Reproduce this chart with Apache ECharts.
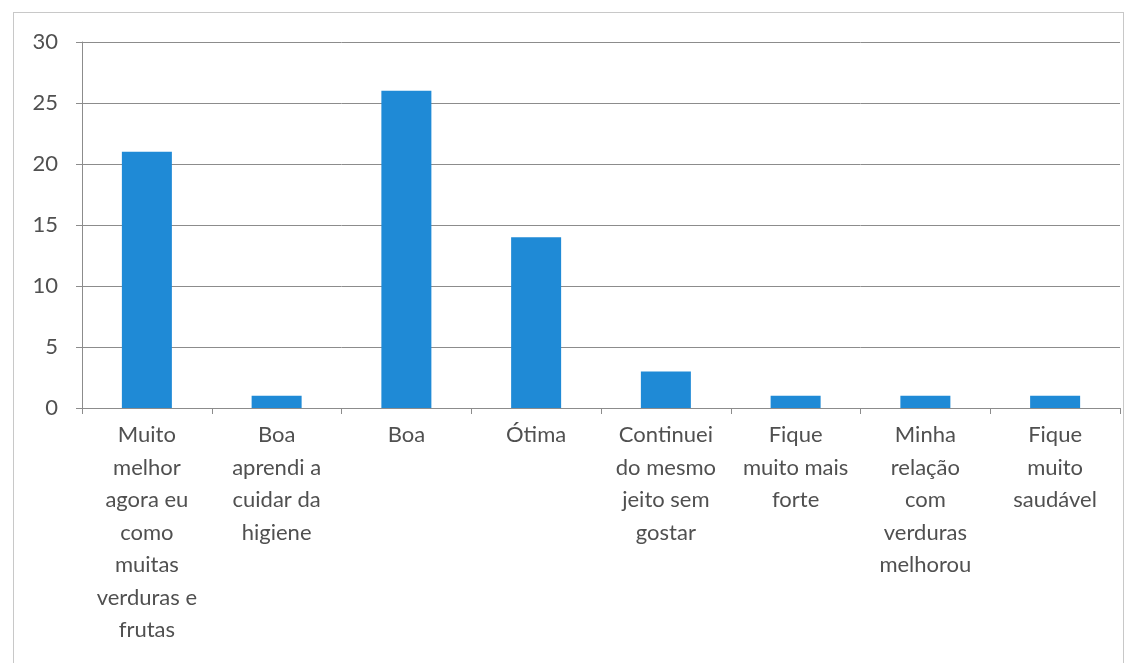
<!DOCTYPE html>
<html>
<head>
<meta charset="utf-8">
<script src="https://cdn.jsdelivr.net/npm/echarts@6/dist/echarts.min.js"></script>
<style>
  html, body { margin: 0; padding: 0; background: #fff; }
  #frame { position: absolute; left: 13px; top: 12px; width: 1111px; height: 660px; border: 1px solid #c8c8c8; box-sizing: border-box; }
  #chart { position: absolute; left: 0; top: 0; width: 1137px; height: 663px; }
</style>
</head>
<body>
<div id="frame"></div>
<div id="chart"></div>
<script>
// Answer categories (line breaks as printed under the axis)
const categories = [
  'Muito\nmelhor\nagora eu\ncomo\nmuitas\nverduras e\nfrutas',
  'Boa\naprendi a\ncuidar da\nhigiene',
  'Boa',
  'Ótima',
  'Continuei\ndo mesmo\njeito sem\ngostar',
  'Fique\nmuito mais\nforte',
  'Minha\nrelação\ncom\nverduras\nmelhorou',
  'Fique\nmuito\nsaudável'
];
// Number of answers per category
const counts = [21, 1, 26, 14, 3, 1, 1, 1];
// Value axis ticks
const yTicks = [0, 5, 10, 15, 20, 25, 30];

const textColor = '#505050';
const fontFamily = 'Lato, "Open Sans", sans-serif';

const chart = echarts.init(document.getElementById('chart'));
chart.setOption({
  animation: false,
  grid: { left: 82, right: 17, top: 42, bottom: 255 },
  xAxis: {
    type: 'category',
    data: categories,
    axisLine: { show: true, lineStyle: { color: '#8c8c8c', width: 1 } },
    axisTick: { show: true, alignWithLabel: false, length: 6, lineStyle: { color: '#8c8c8c' } },
    axisLabel: {
      interval: 0,
      color: textColor,
      fontFamily: fontFamily,
      fontSize: 22,
      lineHeight: 32.5,
      margin: 11,
      align: 'center'
    }
  },
  yAxis: {
    type: 'value',
    min: yTicks[0],
    max: yTicks[yTicks.length - 1],
    interval: 5,
    axisLine: { show: true, lineStyle: { color: '#8c8c8c', width: 1 } },
    axisTick: { show: true, length: 6, lineStyle: { color: '#8c8c8c' } },
    splitLine: { show: true, lineStyle: { color: '#8c8c8c', width: 1 } },
    axisLabel: {
      color: textColor,
      fontFamily: fontFamily,
      fontSize: 22,
      margin: 24
    }
  },
  series: [{
    type: 'bar',
    data: counts,
    barWidth: 50,
    itemStyle: { color: '#1f8ad6' }
  }]
});
</script>
</body>
</html>
